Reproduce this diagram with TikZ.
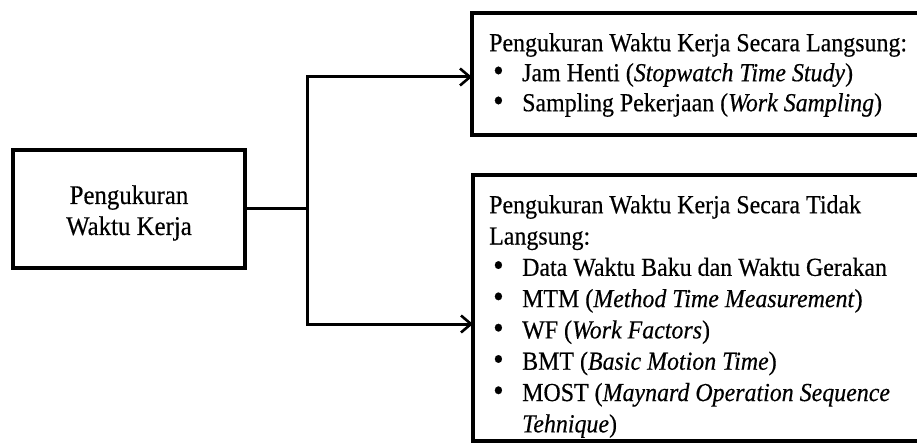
\documentclass[tikz,border=0pt]{standalone}
\usepackage{fontspec}
\setmainfont{Liberation Serif}[FakeStretch=0.92,FakeBold=0.4]
\usetikzlibrary{arrows.meta}
\newcommand{\bul}[1]{\makebox[29pt][l]{\smash{\scalebox{1.25}{\textbullet}}}#1}
\begin{document}
\begin{tikzpicture}[x=1pt,y=-1pt,
  boxs/.style={draw=black,line width=3.4pt,inner sep=0pt},
  conn/.style={draw=black,line width=3pt},
  arr/.style={conn,-{Straight Barb[length=10pt,width=17pt,line width=2.6pt]}},
  txt/.style={align=left,anchor=north west,inner sep=0pt}]
\useasboundingbox (0,0) rectangle (917,446);
\clip (0,0) rectangle (917,446);
% left box
\node[boxs,minimum width=232pt,minimum height=118pt] (lb) at (129,209) {};
\node[align=center,inner sep=0pt,font=\fontsize{27}{31}\selectfont] (lbt) at (129,213) {Pengukuran\\Waktu Kerja};
% top box
\draw[boxs] (472,13) rectangle (940,135);
\path (472,13) coordinate (tbnw) (472,135) coordinate (tbsw);
\node[txt,font=\fontsize{26}{30}\selectfont] (tt) at (489,33) {Pengukuran Waktu Kerja Secara Langsung:\\
  \hspace*{4pt}\bul{Jam Henti (\textit{Stopwatch Time Study})}\\
  \hspace*{4pt}\bul{Sampling Pekerjaan (\textit{Work Sampling})}};
% bottom box
\draw[boxs] (473,175) rectangle (940,441);
\path (473,175) coordinate (bbnw) (473,441) coordinate (bbsw);
\node[txt,font=\fontsize{26}{31.3}\selectfont] (bt) at (489,195) {Pengukuran Waktu Kerja Secara Tidak\\
  Langsung:\\
  \hspace*{4pt}\bul{Data Waktu Baku dan Waktu Gerakan}\\
  \hspace*{4pt}\bul{MTM (\textit{Method Time Measurement})}\\
  \hspace*{4pt}\bul{WF (\textit{Work Factors})}\\
  \hspace*{4pt}\bul{BMT (\textit{Basic Motion Time})}\\
  \hspace*{4pt}\bul{MOST (\textit{Maynard Operation Sequence}}\\
  \hspace*{33pt}\textit{Tehnique})};
% connectors
\coordinate (j) at (307,209);
\coordinate (ja) at (307,77);
\coordinate (jb) at (307,324);
\draw[conn] (lb.east) -- (j);
\draw[arr] (j) -- (ja) -- (ja -| tbnw);
\draw[arr] (j) -- (jb) -- (jb -| bbnw);
\end{tikzpicture}
\end{document}
